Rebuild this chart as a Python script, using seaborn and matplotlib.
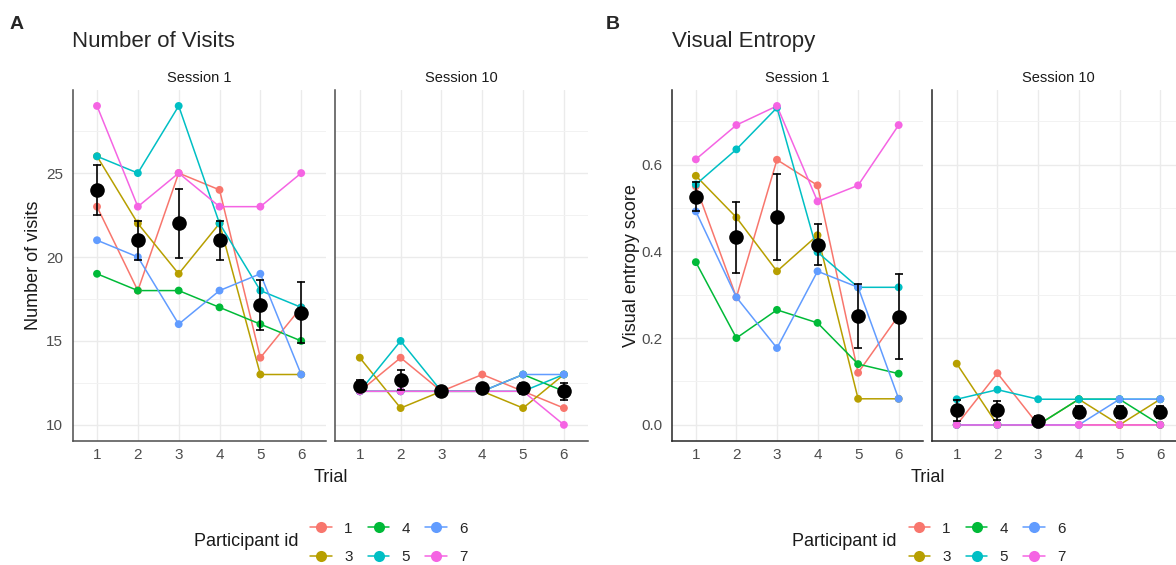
import pandas as pd
import matplotlib
matplotlib.use('Agg')
import matplotlib.pyplot as plt
from matplotlib.lines import Line2D
import seaborn as sns

sns.set_style('white')
plt.rcParams['font.family'] = ['Liberation Sans', 'DejaVu Sans']

trials = [1, 2, 3, 4, 5, 6]
participants = ['1', '3', '4', '5', '6', '7']
palette = ['#F8766D', '#B79F00', '#00BA38', '#00BFC4', '#619CFF', '#F564E3']

# Number of visits, one row per participant (order as `participants`)
visits_s1 = [
    [23, 18, 25, 24, 14, 17],
    [26, 22, 19, 22, 13, 13],
    [19, 18, 18, 17, 16, 15],
    [26, 25, 29, 22, 18, 17],
    [21, 20, 16, 18, 19, 13],
    [29, 23, 25, 23, 23, 25],
]
visits_s10 = [
    [12, 14, 12, 13, 12, 11],
    [14, 11, 12, 12, 11, 13],
    [12, 12, 12, 12, 13, 12],
    [12, 15, 12, 12, 12, 13],
    [12, 12, 12, 12, 13, 13],
    [12, 12, 12, 12, 12, 10],
]

# Visual entropy score
entropy_s1 = [
    [0.550, 0.294, 0.611, 0.552, 0.120, 0.252],
    [0.574, 0.478, 0.354, 0.437, 0.060, 0.060],
    [0.375, 0.200, 0.265, 0.235, 0.140, 0.118],
    [0.554, 0.635, 0.731, 0.398, 0.317, 0.317],
    [0.492, 0.294, 0.177, 0.354, 0.317, 0.060],
    [0.612, 0.691, 0.735, 0.515, 0.552, 0.691],
]
entropy_s10 = [
    [0.000, 0.119, 0.000, 0.000, 0.000, 0.000],
    [0.141, 0.000, 0.000, 0.059, 0.000, 0.059],
    [0.000, 0.000, 0.000, 0.059, 0.059, 0.000],
    [0.059, 0.081, 0.059, 0.059, 0.059, 0.059],
    [0.000, 0.000, 0.000, 0.000, 0.059, 0.059],
    [0.000, 0.000, 0.000, 0.000, 0.000, 0.000],
]

W, H = 1176, 565


def to_long(values):
    rows = []
    for pid, vals in zip(participants, values):
        for t, v in zip(trials, vals):
            rows.append({'pid': pid, 'trial': t, 'value': v})
    return pd.DataFrame(rows)


def px_axes(fig, left, right, top=90, bottom=440.8):
    return fig.add_axes([left / W, (H - bottom) / H, (right - left) / W, (bottom - top) / H])


def draw_facet(ax, values, ylim, major, minor, spine_color, show_y):
    df = to_long(values)
    sns.lineplot(data=df, x='trial', y='value', hue='pid', hue_order=participants,
                 palette=palette, errorbar=None, lw=1.1, legend=False, ax=ax)
    sns.scatterplot(data=df, x='trial', y='value', hue='pid', hue_order=participants,
                    palette=palette, s=32, linewidth=0, legend=False, ax=ax, zorder=3)
    # mean +- standard error
    sns.lineplot(data=df, x='trial', y='value', estimator='mean', errorbar='se',
                 err_style='bars', color='black', lw=0, marker='o', markersize=10.5,
                 markeredgewidth=0,
                 err_kws={'capsize': 2.8, 'elinewidth': 1.2, 'capthick': 1.2, 'zorder': 4},
                 ax=ax, zorder=5)

    ax.set_xlim(0.4, 6.6)
    ax.set_ylim(*ylim)
    ax.set_xticks(trials)
    ax.set_yticks(major)
    ax.set_yticks(minor, minor=True)
    ax.grid(which='major', color='#EBEBEB', lw=1.0)
    ax.grid(which='minor', axis='y', color='#F2F2F2', lw=0.7)
    ax.set_axisbelow(True)
    ax.set_xlabel('')
    ax.set_ylabel('')
    for s in ['top', 'right']:
        ax.spines[s].set_visible(False)
    for s in ['left', 'bottom']:
        ax.spines[s].set_color(spine_color)
        ax.spines[s].set_linewidth(1.1)
    ax.tick_params(axis='x', which='both', length=0, pad=5.5, labelsize=11, labelcolor='#4D4D4D')
    ax.tick_params(axis='y', which='both', length=0, pad=6.8, labelsize=11, labelcolor='#4D4D4D',
                   labelleft=show_y)


fig = plt.figure(figsize=(W / 100, H / 100), dpi=100)

panels = [
    # letter, title, ylabel, data s1, data s10, x positions, ylim, ticks, minor, colour
    ('A', 'Number of Visits', 'Number of visits', visits_s1, visits_s10,
     (72.5, 325.7, 335.3, 588.4), (9.05, 29.95),
     [10, 15, 20, 25], [12.5, 17.5, 22.5, 27.5], '#4D4D4D', ['10', '15', '20', '25'], 10),
    ('B', 'Visual Entropy', 'Visual entropy score', entropy_s1, entropy_s10,
     (671.5, 923.0, 932.3, 1184.7), (-0.0368, 0.7718),
     [0.0, 0.2, 0.4, 0.6], [0.1, 0.3, 0.5, 0.7], '#262626', ['0.0', '0.2', '0.4', '0.6'], 606),
]

for letter, title, ylabel, s1, s10, xs, ylim, major, minor, col, ylabels, letter_x in panels:
    ax1 = px_axes(fig, xs[0], xs[1])
    ax2 = px_axes(fig, xs[2], xs[3])
    draw_facet(ax1, s1, ylim, major, minor, col, True)
    draw_facet(ax2, s10, ylim, major, minor, col, False)
    ax1.set_yticklabels(ylabels)
    for ax, name in [(ax1, 'Session 1'), (ax2, 'Session 10')]:
        ax.text(0.5, 1 + 8.5 / 350.8, name, transform=ax.transAxes, ha='center',
                va='baseline', fontsize=10.5, color='#1A1A1A')
    ax1.set_ylabel(ylabel, fontsize=13, va='center', color='#1A1A1A')
    ax1.yaxis.set_label_coords(-39.5 / (xs[1] - xs[0]), 0.5)
    fig.text((xs[0] + xs[3]) / 2 / W, 1 - 478 / H, 'Trial', ha='center', va='center',
             fontsize=13, color='#1A1A1A')
    fig.text(xs[0] / W, 1 - 46.7 / H, title, ha='left', va='baseline', fontsize=16)
    fig.text(letter_x / W, 1 - 29 / H, letter, ha='left', va='baseline', fontsize=14,
             fontweight='bold')

    # legend
    handles = [Line2D([], [], color=c, lw=1.1, marker='o', markersize=8, markeredgewidth=0)
               for c in palette]
    hx = xs[0] + 238 if letter == 'A' else xs[0] + 237
    fig.text((hx - 12) / W, 1 - 541 / H, 'Participant id', ha='right', va='center',
             fontsize=13, color='#1A1A1A')
    fig.legend(handles, participants, ncol=3, frameon=False, loc='center left',
               bbox_to_anchor=(hx / W, 1 - 543 / H), borderpad=0, borderaxespad=0,
               handlelength=1.4, handletextpad=0.8, columnspacing=1.0,
               labelspacing=0.95, fontsize=11)

fig.savefig('out.png', dpi=100)
